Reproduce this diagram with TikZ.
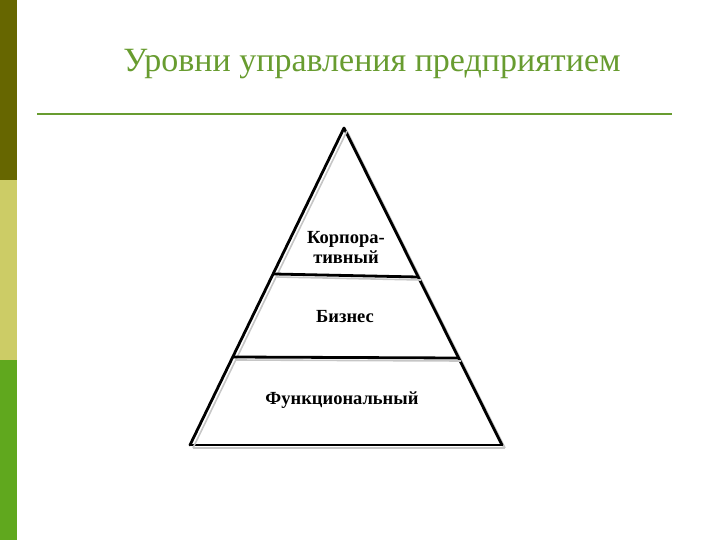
\documentclass[tikz,border=0pt]{standalone}
\usepackage{fontspec}
\setmainfont{Liberation Serif}
\usepackage{tikz}
\usetikzlibrary{calc}

\definecolor{barolive}{RGB}{102,102,0}
\definecolor{barkhaki}{RGB}{204,204,102}
\definecolor{bargreen}{RGB}{96,168,30}
\definecolor{titlegreen}{RGB}{104,156,48}

\begin{document}
\begin{tikzpicture}[x=1pt, y=-1pt]
  \useasboundingbox (0,0) rectangle (720,540);
  % side bar
  \fill[barolive] (0,0) rectangle (17,180);
  \fill[barkhaki] (0,180) rectangle (17,360);
  \fill[bargreen] (0,360) rectangle (17,540);
  % title
  \node[text=titlegreen, font=\fontsize{34}{40}\selectfont] (title) at (372,64) {Уровни управления предприятием};
  \draw[titlegreen, line width=2pt] (37,114) -- (672,114);
  % pyramid
  \coordinate (apex) at (344,128);
  \coordinate (bl) at (190,445);
  \coordinate (br) at (502,445);
  \newcommand{\pyrline}[2]
  {%
    \draw[gray!45, line width=1.6pt] ($#1+(3,3)$) -- ($#2+(3,3)$);
    \draw[line width=2.8pt, line cap=round] #1 -- #2;
  }%
  \pyrline{(apex)}{(br)}
  \pyrline{(bl)}{(br)}
  \pyrline{(apex)}{(bl)}
  \pyrline{(274,274)}{(418,277)}
  \pyrline{(233,357)}{(458,358)}
  % levels
  \begin{scope}[font=\fontsize{18.5}{20}\selectfont\bfseries]
    \node[align=center] (corp) at (346,247) {Корпора-\\тивный};
    \node (bus) at (345,317) {Бизнес};
    \node (func) at (342,400) {Функциональный};
  \end{scope}
\end{tikzpicture}
\end{document}
